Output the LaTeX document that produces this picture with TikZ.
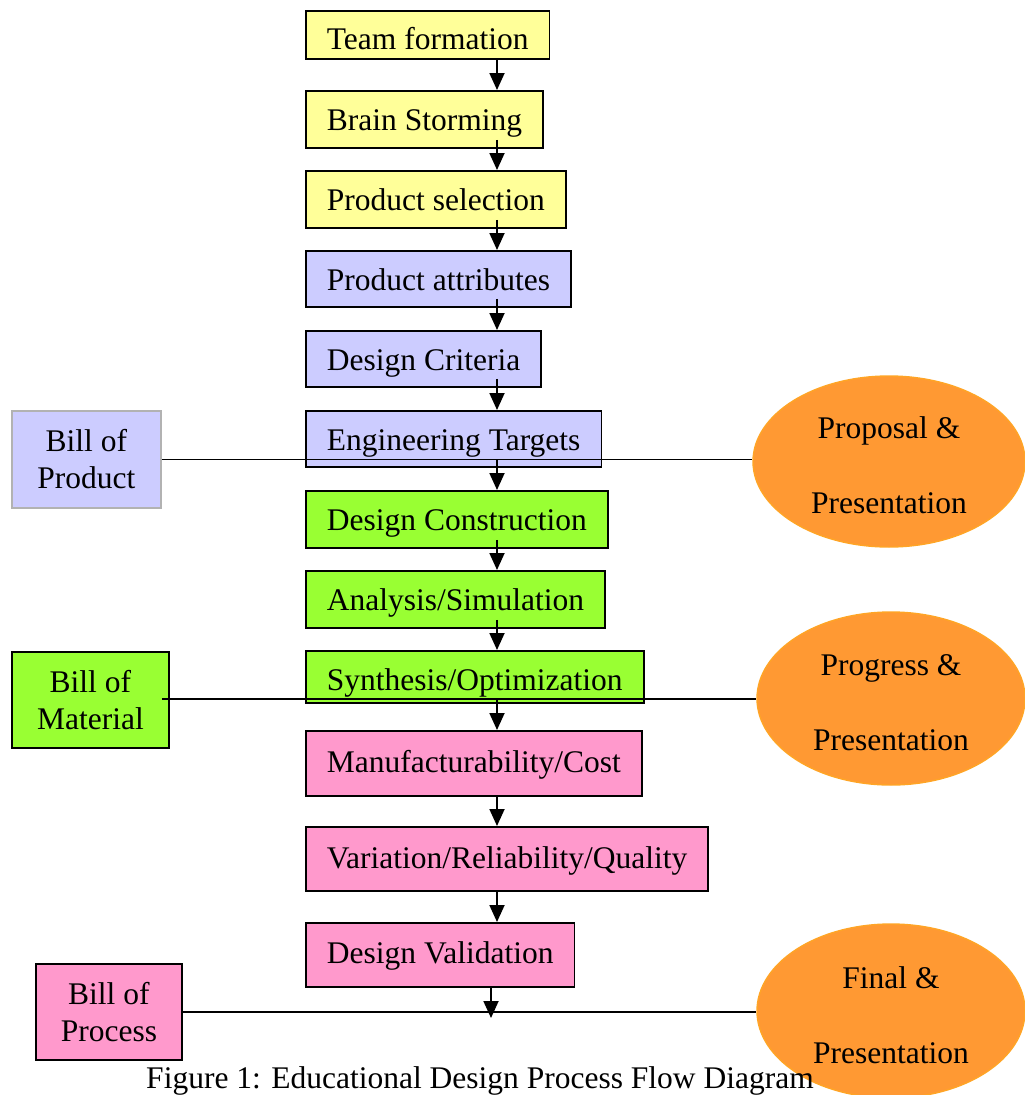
\documentclass[tikz,border=0pt]{standalone}
\usepackage{fontspec}
\setmainfont{Liberation Serif}
\usetikzlibrary{shapes.geometric,arrows.meta}
\definecolor{yel}{HTML}{FFFF99}
\definecolor{lav}{HTML}{CCCCFF}
\definecolor{grn}{HTML}{99FF33}
\definecolor{pnk}{HTML}{FF99CC}
\definecolor{org}{HTML}{FF9933}
\definecolor{orgline}{HTML}{FFA526}
\begin{document}
\begin{tikzpicture}[x=1pt,y=-1pt,
  font=\fontsize{31.5}{37}\selectfont,
  procbox/.style={draw=black,line width=1.8pt,inner xsep=21pt,inner ysep=0pt,anchor=north west},
  billbox/.style={draw=black,line width=1.8pt,inner sep=0pt,align=center,anchor=north west},
  oval/.style={ellipse,fill=org,draw=orgline,line width=1.4pt,inner sep=0pt,align=center,
    font=\fontsize{31.5}{75}\selectfont},
  conn/.style={line width=1.8pt},
  arr/.style={line width=1.8pt,-{Triangle[width=15pt,length=17pt]}}]
\useasboundingbox (0,0) rectangle (1025,1095);
\clip (0,0) rectangle (1025,1095);

% main column
\node[procbox,fill=yel,text height=39pt,text depth=9pt] (b1) at (305,10) {Team formation};
\node[procbox,fill=yel,text height=40pt,text depth=17pt] (b2) at (305,90) {Brain Storming};
\node[procbox,fill=yel,text height=40pt,text depth=17pt] (b3) at (305,170) {Product selection};
\node[procbox,fill=lav,text height=40pt,text depth=16pt] (b4) at (305,250) {Product attributes};
\node[procbox,fill=lav,text height=40pt,text depth=16pt] (b5) at (305,330) {Design Criteria};
\node[procbox,fill=lav,text height=40pt,text depth=16pt] (b6) at (305,410) {Engineering Targets};
\node[procbox,fill=grn,text height=40pt,text depth=17pt] (b7) at (305,490) {Design Construction};
\node[procbox,fill=grn,text height=40pt,text depth=17pt] (b8) at (305,570) {Analysis/Simulation};
\node[procbox,fill=grn,text height=40pt,text depth=12pt] (b9) at (305,650) {Synthesis/Optimization};
\node[procbox,fill=pnk,text height=42pt,text depth=23pt] (b10) at (305,730) {Manufacturability/Cost};
\node[procbox,fill=pnk,text height=42pt,text depth=22pt] (b11) at (305,826) {Variation/Reliability/Quality};
\node[procbox,fill=pnk,text height=41pt,text depth=23pt] (b12) at (305,922) {Design Validation};

% bills
\node[billbox,fill=lav,draw=black!30,minimum width=149pt,minimum height=97pt] (bprod) at (11,410) {Bill of\\Product};
\node[billbox,fill=grn,minimum width=157pt,minimum height=96pt] (bmat) at (11,651) {Bill of\\Material};
\node[billbox,fill=pnk,minimum width=146pt,minimum height=96pt] (bproc) at (35,963) {Bill of\\Process};

% ovals
\node[oval,minimum width=272pt,minimum height=171pt] (prop) at (889,461.5) {\rule{0pt}{29.5pt}Proposal \&\\Presentation};
\node[oval,minimum width=268pt,minimum height=173pt] (prog) at (891,698.5) {\rule{0pt}{29.5pt}Progress \&\\Presentation};
\node[oval,minimum width=268pt,minimum height=174pt] (fin) at (891,1011) {\rule{0pt}{29.5pt}Final \&\\Presentation};

% caption
\node[anchor=base,inner sep=0pt] (cap) at (480,1088) {Figure 1: Educational Design Process Flow Diagram};

% connectors
\coordinate (ax) at (497,0);
\coordinate (bx) at (491,0);
\coordinate (tipend) at (491,1018);

\draw[arr] (b1.south -| ax) -- (b2.north -| ax);
\draw[arr] ([yshift=9pt]b2.south -| ax) -- (b3.north -| ax);
\draw[arr] ([yshift=9pt]b3.south -| ax) -- (b4.north -| ax);
\draw[arr] ([yshift=9pt]b4.south -| ax) -- (b5.north -| ax);
\draw[arr] ([yshift=9pt]b5.south -| ax) -- (b6.north -| ax);
\draw[arr] ([yshift=9pt]b7.south -| ax) -- (b8.north -| ax);
\draw[arr] ([yshift=9pt]b8.south -| ax) -- (b9.north -| ax);
\draw[arr] (b10.south -| ax) -- (b11.north -| ax);
\draw[arr] (b11.south -| ax) -- (b12.north -| ax);

\draw[conn] (bprod.east) -- (bprod.east -| prop.west);
\draw[arr] (bprod.east -| ax) -- (b7.north -| ax);

\draw[conn] ([xshift=-8pt,yshift=1pt]bmat.east) -- ([yshift=1pt]bmat.east -| prog.west);
\draw[arr] ([yshift=1pt]bmat.east -| ax) -- (b10.north -| ax);

\draw[conn] (bproc.east) -- (bproc.east -| fin.west);
\draw[arr] (b12.south -| bx) -- (tipend);
\end{tikzpicture}
\end{document}
